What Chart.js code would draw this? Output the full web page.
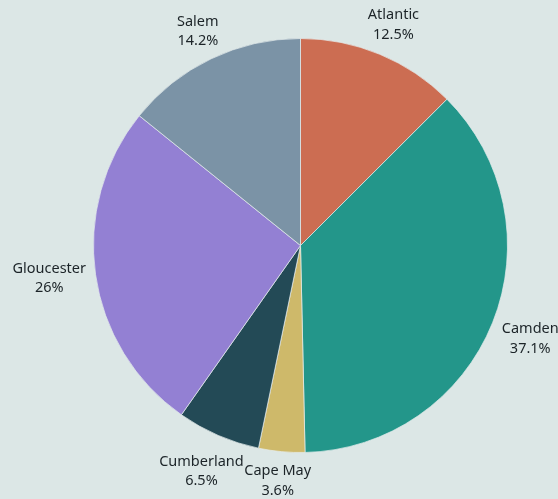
<!DOCTYPE html>
<html>
<head>
<meta charset="utf-8">
<script src="https://cdn.jsdelivr.net/npm/chart.js@4"></script>
<style>
  html, body { margin: 0; padding: 0; background: #DCE7E6; }
  #wrap { width: 558px; height: 499px; position: relative; }
</style>
</head>
<body>
<div id="wrap"><canvas id="c" width="558" height="499"></canvas></div>
<script>
const categories = ["Atlantic", "Camden", "Cape May", "Cumberland", "Gloucester", "Salem"];
const values = [12.5, 37.1, 3.6, 6.5, 26, 14.2];
const valueLabels = ["12.5%", "37.1%", "3.6%", "6.5%", "26%", "14.2%"];
const colors = ["#CC6D52", "#23968A", "#CEB96A", "#234A56", "#9380D3", "#7B93A6"];

const FONT = '14.5px "Noto Sans", sans-serif';

const outsideLabels = {
  id: 'outsideLabels',
  afterDatasetsDraw(chart) {
    const ctx = chart.ctx;
    const meta = chart.getDatasetMeta(0);
    ctx.save();
    ctx.font = FONT;
    ctx.fillStyle = '#1c2428';
    ctx.textAlign = 'center';
    ctx.textBaseline = 'middle';
    const lineH = 19.5;
    // small collision nudges for crowded labels
    const nudge = { "Cumberland": [4, 9], "Camden": [2, 5], "Atlantic": [0, -2], "Salem": [0, -1] };
    meta.data.forEach((arc, i) => {
      const p = arc.getProps(['x', 'y', 'startAngle', 'endAngle', 'outerRadius'], true);
      const mid = (p.startAngle + p.endAngle) / 2;
      const r = p.outerRadius + 10;
      const ax = p.x + Math.cos(mid) * r;
      const ay = p.y + Math.sin(mid) * r;
      const lines = [categories[i], valueLabels[i]];
      const w = Math.max(...lines.map(t => ctx.measureText(t).width));
      const h = lines.length * lineH;
      const n = nudge[categories[i]] || [0, 0];
      const cx = ax + Math.cos(mid) * w / 2 + n[0];
      const cy = ay + Math.sin(mid) * h / 2 + n[1];
      lines.forEach((t, k) => {
        ctx.fillText(t, cx, cy - h / 2 + lineH * (k + 0.5));
      });
    });
    ctx.restore();
  }
};

new Chart(document.getElementById('c'), {
  type: 'pie',
  data: {
    labels: categories,
    datasets: [{
      data: values,
      backgroundColor: colors,
      borderColor: 'rgba(230,236,236,0.7)',
      borderWidth: 1
    }]
  },
  options: {
    responsive: false,
    animation: false,
    layout: { padding: { left: 93, right: 50, top: 38, bottom: 46 } },
    plugins: {
      legend: { display: false },
      tooltip: { enabled: false },
      title: { display: false }
    }
  },
  plugins: [outsideLabels]
});
</script>
</body>
</html>
